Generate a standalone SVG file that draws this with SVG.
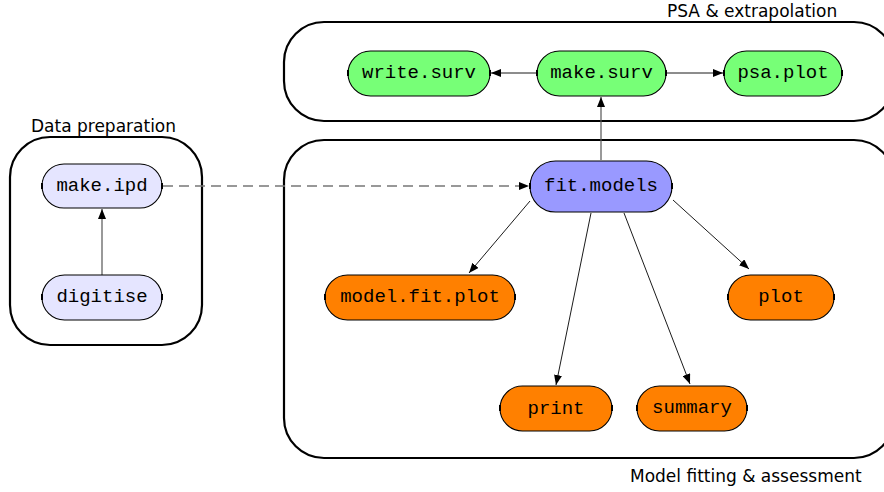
<svg xmlns="http://www.w3.org/2000/svg" width="884" height="492" viewBox="0 0 884 492">
  <style>
    .box { fill: none; stroke: #000; stroke-width: 2.2; }
    .node { stroke: #000; stroke-width: 1.1; }
    .green { fill: #77ff77; }
    .pale { fill: #e5e5ff; }
    .blue { fill: #9999ff; }
    .orange { fill: #ff8000; }
    .tick { stroke: #000; stroke-width: 2; }
    .lbl { font-family: "Liberation Mono", "DejaVu Sans Mono", monospace; font-size: 19px; text-anchor: middle; dominant-baseline: central; fill: #000; }
    .title { font-family: "DejaVu Sans", "Liberation Sans", sans-serif; font-size: 17px; fill: #000; }
    .edge { fill: none; stroke: #000; stroke-width: 0.9; }
    .grey { stroke: #555; stroke-width: 1.2; }
    .dash { stroke: #777; stroke-width: 1.5; stroke-dasharray: 10 6; }
  </style>
  <defs>
    <marker id="head" viewBox="0 0 10 8" refX="10" refY="4" markerWidth="10" markerHeight="8" markerUnits="userSpaceOnUse" orient="auto">
      <path d="M0,0 L10,4 L0,8 Z" fill="#000"/>
    </marker>
  </defs>

  <!-- group containers -->
  <g id="group-psa">
    <rect class="box" x="284" y="22" width="610" height="99" rx="40"/>
    <text class="title" x="667" y="17">PSA &amp; extrapolation</text>
  </g>
  <g id="group-data">
    <rect class="box" x="10" y="137" width="192" height="208" rx="40"/>
    <text class="title" x="31" y="132">Data preparation</text>
  </g>
  <g id="group-model">
    <rect class="box" x="284" y="140" width="610" height="318" rx="40"/>
    <text class="title" x="630" y="482">Model fitting &amp; assessment</text>
  </g>

  <!-- connectors -->
  <g id="connectors">
    <line class="edge" x1="537" y1="73" x2="491" y2="73" marker-end="url(#head)"/>
    <line class="edge" x1="666" y1="73" x2="723" y2="73" marker-end="url(#head)"/>
    <line class="edge grey" x1="601" y1="160" x2="601" y2="97" marker-end="url(#head)"/>
    <line class="edge grey" x1="102" y1="275" x2="102" y2="209" marker-end="url(#head)"/>
    <line class="edge dash" x1="163" y1="186" x2="529" y2="186" marker-end="url(#head)"/>
    <line class="edge" x1="530" y1="201" x2="469" y2="273" marker-end="url(#head)"/>
    <line class="edge" x1="591" y1="213" x2="556" y2="385" marker-end="url(#head)"/>
    <line class="edge" x1="624" y1="213" x2="690" y2="384" marker-end="url(#head)"/>
    <line class="edge" x1="673" y1="200" x2="749" y2="269" marker-end="url(#head)"/>
  </g>

  <!-- PSA & extrapolation nodes -->
  <g id="write-surv">
    <rect class="node green" x="348" y="51" width="142" height="45" rx="22.5"/>
    <line class="tick" x1="348" y1="70" x2="348" y2="76"/><line class="tick" x1="490" y1="70" x2="490" y2="76"/>
    <text class="lbl" x="419" y="73">write.surv</text>
  </g>
  <g id="make-surv">
    <rect class="node green" x="537" y="51" width="129" height="45" rx="22.5"/>
    <line class="tick" x1="537" y1="70" x2="537" y2="76"/><line class="tick" x1="666" y1="70" x2="666" y2="76"/>
    <text class="lbl" x="601.5" y="73">make.surv</text>
  </g>
  <g id="psa-plot">
    <rect class="node green" x="724" y="51" width="118" height="45" rx="22.5"/>
    <line class="tick" x1="724" y1="70" x2="724" y2="76"/><line class="tick" x1="842" y1="70" x2="842" y2="76"/>
    <text class="lbl" x="783" y="73">psa.plot</text>
  </g>

  <!-- data preparation nodes -->
  <g id="make-ipd">
    <rect class="node pale" x="42" y="164" width="120" height="44" rx="22"/>
    <line class="tick" x1="42" y1="183" x2="42" y2="189"/><line class="tick" x1="162" y1="183" x2="162" y2="189"/>
    <text class="lbl" x="102" y="186">make.ipd</text>
  </g>
  <g id="digitise">
    <rect class="node pale" x="42" y="275" width="120" height="45" rx="22.5"/>
    <line class="tick" x1="42" y1="294" x2="42" y2="300"/><line class="tick" x1="162" y1="294" x2="162" y2="300"/>
    <text class="lbl" x="102" y="297">digitise</text>
  </g>

  <!-- model fitting nodes -->
  <g id="fit-models">
    <rect class="node blue" x="530" y="161" width="142" height="51" rx="25.5"/>
    <line class="tick" x1="530" y1="183" x2="530" y2="189"/><line class="tick" x1="672" y1="183" x2="672" y2="189"/>
    <text class="lbl" x="601" y="186">fit.models</text>
  </g>
  <g id="model-fit-plot">
    <rect class="node orange" x="325" y="275" width="190" height="45" rx="22.5"/>
    <line class="tick" x1="325" y1="294" x2="325" y2="300"/><line class="tick" x1="515" y1="294" x2="515" y2="300"/>
    <text class="lbl" x="420" y="297">model.fit.plot</text>
  </g>
  <g id="plot">
    <rect class="node orange" x="728" y="275" width="106" height="45" rx="22.5"/>
    <line class="tick" x1="728" y1="294" x2="728" y2="300"/><line class="tick" x1="834" y1="294" x2="834" y2="300"/>
    <text class="lbl" x="781" y="297">plot</text>
  </g>
  <g id="print">
    <rect class="node orange" x="500" y="386" width="112" height="45" rx="22.5"/>
    <line class="tick" x1="500" y1="405" x2="500" y2="411"/><line class="tick" x1="612" y1="405" x2="612" y2="411"/>
    <text class="lbl" x="556" y="409">print</text>
  </g>
  <g id="summary">
    <rect class="node orange" x="637" y="386" width="110" height="45" rx="22.5"/>
    <line class="tick" x1="637" y1="405" x2="637" y2="411"/><line class="tick" x1="747" y1="405" x2="747" y2="411"/>
    <text class="lbl" x="692" y="408">summary</text>
  </g>
</svg>
